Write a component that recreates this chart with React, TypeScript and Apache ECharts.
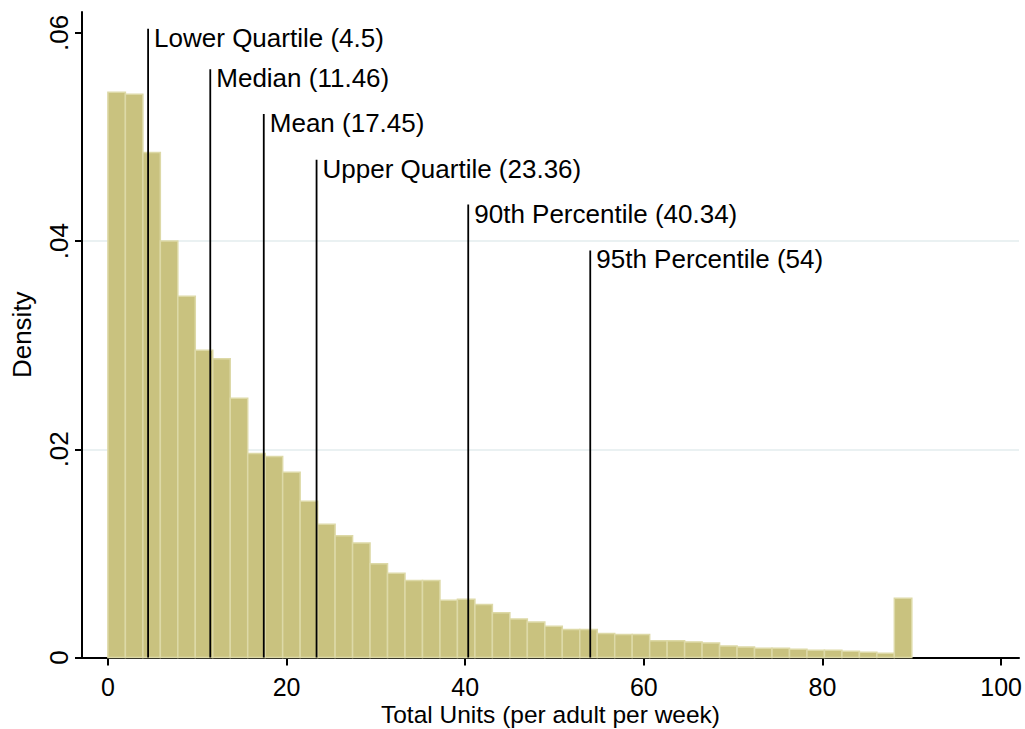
import React, { useEffect, useRef } from "react";
import * as echarts from "echarts";

// Histogram: 46 equal-width bins spanning 0..90
const BIN_COUNT = 46;
const X_MAX_DATA = 90;
const BIN_DENSITY = [
  0.0543, 0.0541, 0.0485, 0.04, 0.0347, 0.0295, 0.0287, 0.0249, 0.0196, 0.0193,
  0.0178, 0.015, 0.0128, 0.0117, 0.011, 0.009, 0.0081, 0.0074, 0.0074, 0.0055,
  0.0056, 0.0051, 0.0043, 0.0037, 0.0034, 0.003, 0.0027, 0.0027, 0.0023, 0.0022,
  0.0022, 0.0016, 0.0016, 0.0015, 0.0014, 0.0011, 0.001, 0.0009, 0.0009, 0.0008,
  0.0007, 0.0007, 0.0006, 0.0005, 0.0004, 0.0057,
];

// Reference lines
const MARKER_X = [4.5, 11.46, 17.45, 23.36, 40.34, 54];
const MARKER_TOP = [0.0604, 0.0565, 0.0522, 0.0478, 0.0435, 0.0391];
const MARKER_LABELS = [
  "Lower Quartile (4.5)",
  "Median (11.46)",
  "Mean (17.45)",
  "Upper Quartile (23.36)",
  "90th Percentile (40.34)",
  "95th Percentile (54)",
];

const X_TICKS = [0, 20, 40, 60, 80, 100];
const Y_TICKS = [0, 0.02, 0.04, 0.06];

const FONT = '"Liberation Sans", Arial, sans-serif';

export default function App() {
  const ref = useRef<HTMLDivElement>(null);

  useEffect(() => {
    if (!ref.current) return;
    const chart = echarts.init(ref.current, undefined, { renderer: "svg" });
    const binWidth = X_MAX_DATA / BIN_COUNT;
    const barData = BIN_DENSITY.map((d, i) => [i * binWidth, (i + 1) * binWidth, d]);
    const lineData = MARKER_X.map((x, i) => [x, MARKER_TOP[i]]);

    chart.setOption({
      animation: false,
      backgroundColor: "#ffffff",
      textStyle: { fontFamily: FONT },
      grid: {
        left: 82,
        right: 6,
        top: 12,
        bottom: 71.5,
        containLabel: false,
        outerBoundsMode: "none",
      },
      xAxis: {
        type: "value",
        min: -2.9,
        max: 102,
        name: "Total Units (per adult per week)",
        nameLocation: "middle",
        nameGap: 44,
        nameMoveOverlap: false,
        nameTextStyle: { fontSize: 24.5, color: "#000", fontFamily: FONT },
        axisLine: { onZero: false, lineStyle: { color: "#000", width: 2 } },
        axisTick: { show: true, length: 8, lineStyle: { color: "#000", width: 2 }, customValues: X_TICKS },
        axisLabel: {
          fontSize: 25,
          color: "#000",
          fontFamily: FONT,
          margin: 17,
          customValues: X_TICKS,
        },
        splitLine: { show: false },
      },
      yAxis: {
        type: "value",
        min: 0,
        max: 0.062,
        interval: 0.02,
        name: "Density",
        nameLocation: "middle",
        nameGap: 47,
        nameMoveOverlap: false,
        nameRotate: 90,
        nameTextStyle: { fontSize: 26, color: "#000", fontFamily: FONT },
        axisLine: { show: true, onZero: false, lineStyle: { color: "#000", width: 2 } },
        axisTick: { show: true, length: 7, lineStyle: { color: "#000", width: 2 }, customValues: Y_TICKS },
        axisLabel: {
          fontSize: 26,
          color: "#000",
          fontFamily: FONT,
          rotate: 90,
          margin: 10,
          customValues: Y_TICKS,
          formatter: (v: number) => (v === 0 ? "0" : v.toFixed(2).replace(/^0/, "")),
        },
        splitLine: {
          show: true,
          showMinLine: false,
          showMaxLine: false,
          lineStyle: { color: "#EAF1F2", width: 2 },
        },
      },
      series: [
        {
          type: "custom",
          data: barData,
          encode: { x: [0, 1], y: 2 },
          clip: false,
          renderItem: (params: any, api: any) => {
            const p0 = api.coord([api.value(0), api.value(2)]);
            const p1 = api.coord([api.value(1), 0]);
            return {
              type: "rect",
              shape: { x: p0[0], y: p0[1], width: p1[0] - p0[0], height: p1[1] - p0[1] },
              style: { fill: "#C9C27F", stroke: "#DDD9A7", lineWidth: 1.5 },
            };
          },
        },
        {
          type: "custom",
          data: lineData,
          encode: { x: 0, y: 1 },
          clip: false,
          renderItem: (params: any, api: any) => {
            const top = api.coord([api.value(0), api.value(1)]);
            const bottom = api.coord([api.value(0), 0]);
            return {
              type: "group",
              children: [
                {
                  type: "line",
                  shape: { x1: top[0], y1: top[1], x2: bottom[0], y2: bottom[1] },
                  style: { stroke: "#000", lineWidth: 1.8 },
                },
                {
                  type: "text",
                  x: top[0] + 6,
                  y: top[1] + 9,
                  style: {
                    text: MARKER_LABELS[params.dataIndex],
                    fill: "#000",
                    fontSize: 26,
                    fontFamily: FONT,
                    align: "left",
                    verticalAlign: "middle",
                  },
                },
              ],
            };
          },
        },
      ],
    });
    return () => chart.dispose();
  }, []);

  return (
    <div
      ref={ref}
      style={{ position: "absolute", left: 0, top: 0, width: 1025, height: 729, background: "#fff" }}
    />
  );
}
